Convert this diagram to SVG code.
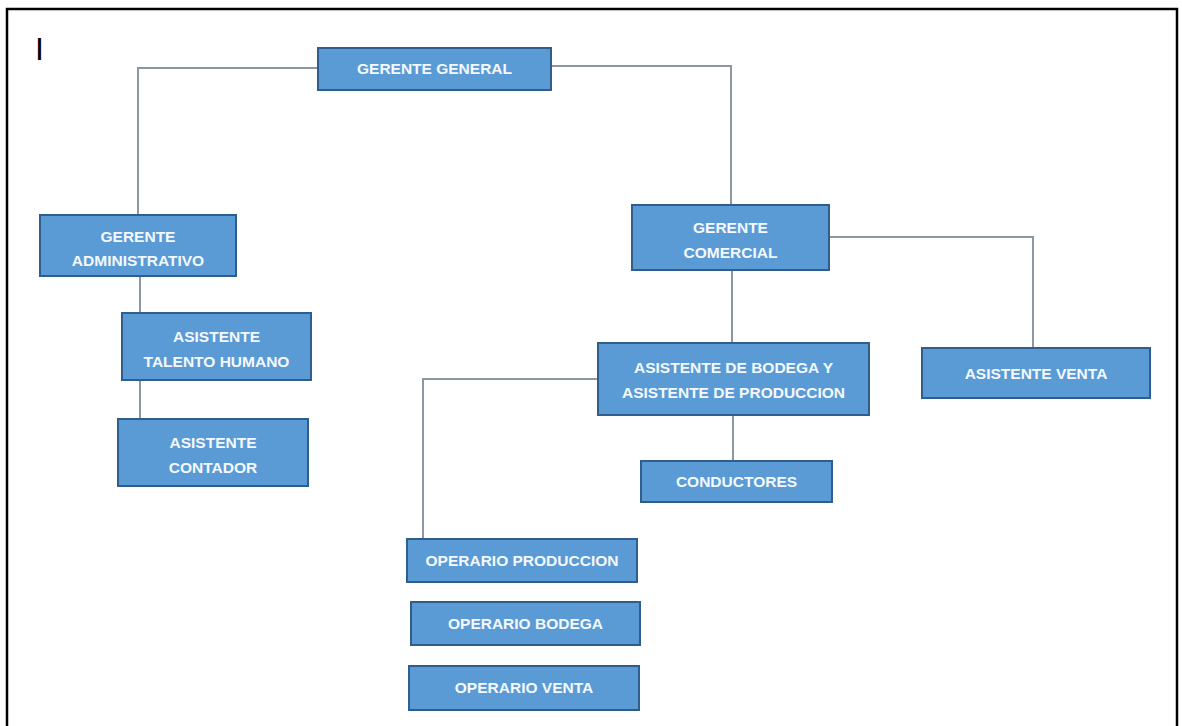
<svg xmlns="http://www.w3.org/2000/svg" width="1182" height="726" viewBox="0 0 1182 726">
<style>
.box{fill:#5B9BD5;stroke:#2F5E8C;stroke-width:2}
.t{font-family:"Liberation Sans",Arial,sans-serif;font-weight:bold;font-size:15.5px;fill:#F4F9FF;text-anchor:middle}
.c{fill:none;stroke:#8C97A3;stroke-width:2}
</style>
<rect x="0" y="0" width="1182" height="726" fill="#ffffff"/>
<rect x="7" y="9" width="1170" height="730" fill="none" stroke="#000" stroke-width="2.5"/>
<text x="35" y="60" font-family="Liberation Sans,Arial,sans-serif" font-size="32" fill="#000">I</text>
<g id="connectors">
<polyline class="c" points="318,68 138,68 138,215"/>
<polyline class="c" points="551,66 731,66 731,205"/>
<line class="c" x1="140" y1="276" x2="140" y2="313"/>
<line class="c" x1="140" y1="380" x2="140" y2="419"/>
<line class="c" x1="732" y1="270" x2="732" y2="343"/>
<polyline class="c" points="829,237 1033,237 1033,348"/>
<polyline class="c" points="598,379 423,379 423,539"/>
<line class="c" x1="733" y1="415" x2="733" y2="461"/>
</g>
<g id="gerente-general"><rect class="box" x="318" y="48" width="233" height="42"/><text class="t" x="434.5" y="74">GERENTE GENERAL</text></g>
<g id="gerente-administrativo"><rect class="box" x="40" y="215" width="196" height="61"/><text class="t" x="138" y="242">GERENTE</text><text class="t" x="138" y="266">ADMINISTRATIVO</text></g>
<g id="asistente-talento-humano"><rect class="box" x="122" y="313" width="189" height="67"/><text class="t" x="216.5" y="342">ASISTENTE</text><text class="t" x="216.5" y="367">TALENTO HUMANO</text></g>
<g id="asistente-contador"><rect class="box" x="118" y="419" width="190" height="67"/><text class="t" x="213" y="448">ASISTENTE</text><text class="t" x="213" y="473">CONTADOR</text></g>
<g id="gerente-comercial"><rect class="box" x="632" y="205" width="197" height="65"/><text class="t" x="730.5" y="233">GERENTE</text><text class="t" x="730.5" y="258">COMERCIAL</text></g>
<g id="asistente-bodega-produccion"><rect class="box" x="598" y="343" width="271" height="72"/><text class="t" x="733.5" y="373">ASISTENTE DE BODEGA Y</text><text class="t" x="733.5" y="398">ASISTENTE DE PRODUCCION</text></g>
<g id="asistente-venta"><rect class="box" x="922" y="348" width="228" height="50"/><text class="t" x="1036" y="379">ASISTENTE VENTA</text></g>
<g id="conductores"><rect class="box" x="641" y="461" width="191" height="41"/><text class="t" x="736.5" y="487">CONDUCTORES</text></g>
<g id="operario-produccion"><rect class="box" x="407" y="539" width="230" height="43"/><text class="t" x="522" y="566">OPERARIO PRODUCCION</text></g>
<g id="operario-bodega"><rect class="box" x="411" y="602" width="229" height="43"/><text class="t" x="525.5" y="629">OPERARIO BODEGA</text></g>
<g id="operario-venta"><rect class="box" x="409" y="666" width="230" height="44"/><text class="t" x="524" y="693">OPERARIO VENTA</text></g>
</svg>
